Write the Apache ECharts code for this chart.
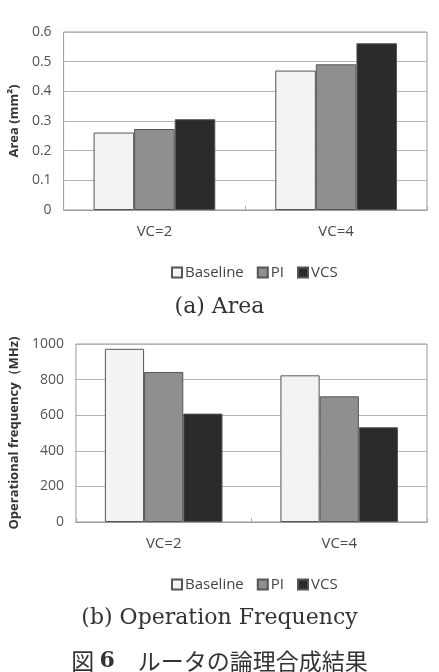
<!DOCTYPE html>
<html>
<head>
<meta charset="utf-8">
<script src="https://cdn.jsdelivr.net/npm/echarts@6/dist/echarts.min.js"></script>
<style>
html, body { margin: 0; padding: 0; background: #fff; }
#chart { width: 439px; height: 672px; }
</style>
</head>
<body>
<div id="chart"></div>
<script>
// data
var categories = ['VC=2', 'VC=4']
var seriesNames = ['Baseline', 'PI', 'VCS']
var areaBaseline = [0.261, 0.470]
var areaPI = [0.273, 0.491]
var areaVCS = [0.306, 0.562]
var freqBaseline = [973, 824]
var freqPI = [843, 706]
var freqVCS = [609, 532]
var areaTicks = { min: 0, max: 0.6, interval: 0.1 }
var freqTicks = { min: 0, max: 1000, interval: 200 }

var fills = ['#f3f3f3', '#8f8f8f', '#2b2b2b']
var labelFont = 'Open Sans'
var serifFont = 'DejaVu Serif'

function makeBar (name, idx, data, axisIdx) {
  return {
    name: name,
    type: 'bar',
    xAxisIndex: axisIdx,
    yAxisIndex: axisIdx,
    data: data,
    barGap: '0%',
    barCategoryGap: '33%',
    itemStyle: {
      color: fills[idx],
      borderColor: '#555',
      borderWidth: 1
    }
  }
}

function xAxisOf (gridIdx, margin) {
  return {
    type: 'category',
    gridIndex: gridIdx,
    data: categories,
    axisLine: { lineStyle: { color: '#9a9a9a' } },
    axisTick: { show: true, inside: true, length: 4, lineStyle: { color: '#aaa' } },
    axisLabel: { color: '#4a4a4a', fontSize: 15, fontFamily: labelFont, margin: margin }
  }
}

function yAxisOf (gridIdx, ticks, name, gap) {
  return {
    type: 'value',
    gridIndex: gridIdx,
    min: ticks.min,
    max: ticks.max,
    interval: ticks.interval,
    name: name,
    nameLocation: 'middle',
    nameRotate: 90,
    nameGap: gap,
    nameTextStyle: { color: '#333', fontSize: 13, fontWeight: 'bold', fontFamily: labelFont },
    axisLine: { show: false },
    axisTick: { show: false },
    axisLabel: {
      color: '#555',
      fontSize: 14,
      fontFamily: labelFont,
      margin: 12,
      formatter: function (v) { return String(Math.round(v * 100) / 100) }
    },
    splitLine: { lineStyle: { color: '#b5b5b5' } }
  }
}

function legendOf (top) {
  return {
    top: top,
    left: 166,
    itemWidth: 10,
    itemHeight: 10,
    itemGap: 13,
    icon: 'rect',
    data: seriesNames,
    textStyle: { color: '#444', fontSize: 15, fontFamily: labelFont, padding: [0, 0, 0, -2] }
  }
}

var chart = echarts.init(document.getElementById('chart'))
chart.setOption({
  animation: false,
  title: [
    {
      text: '(a) Area',
      left: 'center',
      top: 291,
      textStyle: { fontFamily: serifFont, fontWeight: 'normal', fontSize: 22, color: '#333' }
    },
    {
      text: '(b) Operation Frequency',
      left: 'center',
      top: 602,
      textStyle: { fontFamily: serifFont, fontWeight: 'normal', fontSize: 22, color: '#333' }
    },
    {
      text: '図 {b|6}　ルータの論理合成結果',
      left: 'center',
      top: 645,
      textStyle: {
        fontFamily: 'Noto Sans CJK JP',
        fontWeight: 'normal',
        fontSize: 23,
        color: '#333',
        rich: {
          b: { fontFamily: serifFont, fontWeight: 'bold', fontSize: 22, color: '#333' }
        }
      }
    }
  ],
  legend: [legendOf(260), legendOf(572)],
  grid: [
    { left: 61, top: 32, width: 366, height: 178, show: true, borderColor: '#9a9a9a', borderWidth: 1 },
    { left: 73, top: 344, width: 354, height: 178, show: true, borderColor: '#9a9a9a', borderWidth: 1 }
  ],
  xAxis: [xAxisOf(0, 14), xAxisOf(1, 14)],
  yAxis: [
    yAxisOf(0, areaTicks, 'Area (mm²)', 36),
    yAxisOf(1, freqTicks, 'Operational frequency（MHz)', 50)
  ],
  series: [
    makeBar(seriesNames[0], 0, areaBaseline, 0),
    makeBar(seriesNames[1], 1, areaPI, 0),
    makeBar(seriesNames[2], 2, areaVCS, 0),
    makeBar(seriesNames[0], 0, freqBaseline, 1),
    makeBar(seriesNames[1], 1, freqPI, 1),
    makeBar(seriesNames[2], 2, freqVCS, 1)
  ]
})
</script>
</body>
</html>
